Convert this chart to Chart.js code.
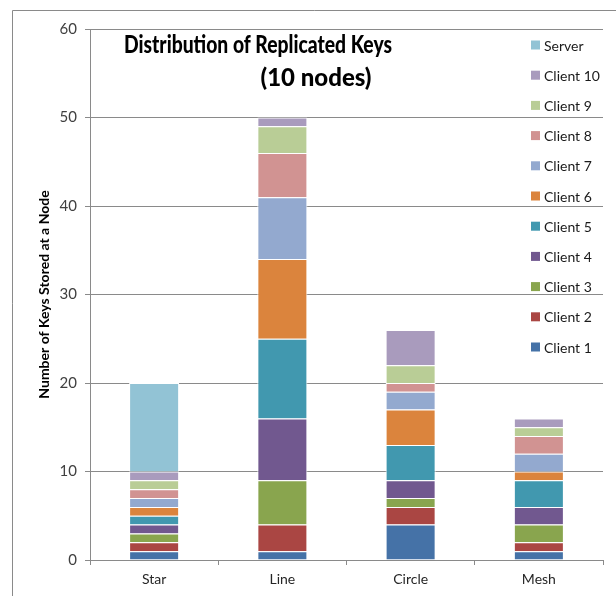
<!DOCTYPE html>
<html>
<head>
<meta charset="utf-8">
<script src="https://cdn.jsdelivr.net/npm/chart.js@4/dist/chart.umd.min.js"></script>
<style>
html,body{margin:0;padding:0;background:#fff;}
#wrap{width:616px;height:596px;}
</style>
</head>
<body>
<div id="wrap"><canvas id="c" width="616" height="596"></canvas></div>
<script>
const categories = ["Star", "Line", "Circle", "Mesh"];
const seriesNames = ["Client 1","Client 2","Client 3","Client 4","Client 5","Client 6","Client 7","Client 8","Client 9","Client 10","Server"];
const client1 = [1, 1, 4, 1];
const client2 = [1, 3, 2, 1];
const client3 = [1, 5, 1, 2];
const client4 = [1, 7, 2, 2];
const client5 = [1, 9, 4, 3];
const client6 = [1, 9, 4, 1];
const client7 = [1, 7, 2, 2];
const client8 = [1, 5, 1, 2];
const client9 = [1, 3, 2, 1];
const client10 = [1, 1, 4, 1];
const server = [10, 0, 0, 0];
const seriesValues = [client1, client2, client3, client4, client5, client6, client7, client8, client9, client10, server];
const seriesColors = ["#4572A7","#AA4643","#89A54E","#71588F","#4198AF","#DB843D","#93A9CF","#D19392","#B9CD96","#A99BBD","#92C3D5"];
const yTicks = [0, 10, 20, 30, 40, 50, 60];
const titleLines = ["Distribution of Replicated Keys", "(10 nodes)"];
const yTitle = "Number of Keys Stored at a Node";

const FONT = "Lato, 'Open Sans', 'DejaVu Sans', sans-serif";

const datasets = seriesNames.map((n, i) => ({
  label: n,
  data: seriesValues[i],
  backgroundColor: seriesColors[i],
  borderColor: "#ffffff",
  borderWidth: 1,
  barPercentage: 0.39,
  categoryPercentage: 1.0
}));

const decor = {
  id: "decor",
  beforeDraw(chart) {
    const ctx = chart.ctx;
    ctx.save();
    ctx.fillStyle = "#fff";
    ctx.fillRect(0, 0, chart.width, chart.height);
    ctx.strokeStyle = "#8a8a8a";
    ctx.lineWidth = 1;
    ctx.beginPath();
    ctx.moveTo(12.5, 596);
    ctx.lineTo(12.5, 10.5);
    ctx.lineTo(616, 10.5);
    ctx.stroke();
    ctx.restore();
  },
  afterDraw(chart) {
    const ctx = chart.ctx;
    ctx.save();
    // title
    ctx.fillStyle = "#000";
    ctx.font = "900 24px " + FONT;
    ctx.textAlign = "center";
    ctx.textBaseline = "middle";
    ctx.fillText(titleLines[0], 258, 45, 268);
    ctx.fillText(titleLines[1], 316, 78, 128);
    // legend
    ctx.font = "14px " + FONT;
    ctx.textAlign = "left";
    const ds = chart.data.datasets;
    for (let k = 0; k < ds.length; k++) {
      const d = ds[ds.length - 1 - k];
      const y = 45 + k * 30.2;
      ctx.fillStyle = d.backgroundColor;
      ctx.fillRect(531, y - 4.5, 9, 9);
      ctx.fillStyle = "#1a1a1a";
      ctx.fillText(d.label, 544, y + 1);
    }
    ctx.restore();
  }
};

new Chart(document.getElementById("c"), {
  type: "bar",
  data: { labels: categories, datasets },
  options: {
    responsive: false,
    devicePixelRatio: 1,
    animation: false,
    layout: { padding: { top: 29, right: 13, left: 0, bottom: 0 } },
    plugins: { legend: { display: false }, title: { display: false }, tooltip: { enabled: false } },
    scales: {
      x: {
        stacked: true,
        offset: true,
        grid: { offset: true, drawOnChartArea: false, drawTicks: true, tickLength: 5, color: "#8a8a8a" },
        border: { color: "#8a8a8a" },
        ticks: { color: "#262626", font: { family: FONT, size: 14 }, padding: 6 },
        afterFit(s) { s.height = 36; }
      },
      y: {
        stacked: true,
        min: 0, max: 60,
        afterBuildTicks(s) { s.ticks = yTicks.map(v => ({ value: v })); },
        grid: { color: "#8a8a8a", tickLength: 5 },
        border: { color: "#8a8a8a" },
        ticks: { color: "#404040", font: { family: FONT, size: 15 }, padding: 8 },
        title: { display: true, text: yTitle, color: "#000", font: { family: FONT, size: 14, weight: "bold" }, padding: { top: 36, bottom: 0 } },
        afterFit(s) { s.width = 90; }
      }
    }
  },
  plugins: [decor]
});
</script>
</body>
</html>
